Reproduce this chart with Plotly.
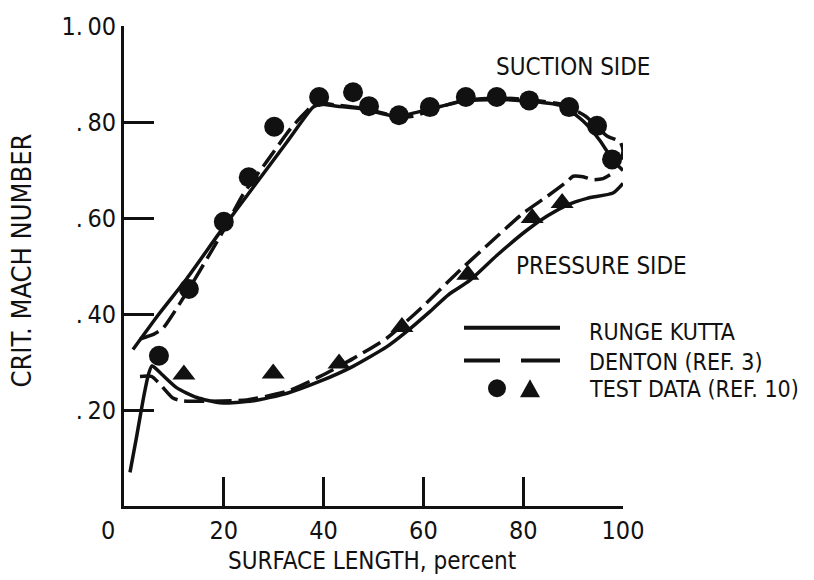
import plotly.graph_objects as go

# ---- measured data -------------------------------------------------------
# Suction side, Runge-Kutta solution
ss_rk_x = [1.8, 7.0, 12.6, 19.2, 25.9, 32.7, 37.9, 39.3, 42.7, 47.9, 54.7,
           61.3, 67.9, 74.7, 81.4, 88.0, 92.0, 95.4, 98.0, 100.0]
ss_rk_y = [0.326, 0.400, 0.474, 0.570, 0.664, 0.759, 0.831, 0.837, 0.833,
           0.827, 0.812, 0.827, 0.843, 0.847, 0.843, 0.833, 0.802, 0.761,
           0.720, 0.699]

# Suction side, Denton (ref. 3)
ss_dn_x = [3.2, 6.0, 7.8, 9.2, 13.0, 20.0, 23.8, 28.7, 33.3, 35.9, 38.5,
           42.0, 48.0, 54.7, 57.9, 63.9, 68.0, 75.0, 81.5, 88.0, 92.5, 96.8,
           99.4, 100.0, 99.6]
ss_dn_y = [0.348, 0.358, 0.370, 0.390, 0.452, 0.575, 0.648, 0.719, 0.785,
           0.815, 0.840, 0.836, 0.828, 0.812, 0.812, 0.833, 0.845, 0.850,
           0.846, 0.836, 0.812, 0.771, 0.759, 0.740, 0.722]

# Pressure side, Runge-Kutta solution
ps_rk_x = [1.2, 2.5, 3.9, 4.9, 5.6, 7.5, 10.6, 14.6, 19.2, 25.9, 32.7, 39.3,
           45.9, 52.7, 56.0, 61.3, 65.0, 69.3, 74.7, 80.8, 84.8, 88.8, 92.8,
           98.0, 100.0]
ps_rk_y = [0.070, 0.143, 0.225, 0.274, 0.292, 0.275, 0.246, 0.226, 0.215,
           0.219, 0.235, 0.260, 0.291, 0.332, 0.358, 0.405, 0.440, 0.470,
           0.522, 0.575, 0.604, 0.627, 0.641, 0.652, 0.672]

# Pressure side, Denton (ref. 3)
ps_dn_x = [3.2, 5.5, 7.2, 9.8, 11.8, 15.8, 24.6, 32.7, 39.3, 45.9, 52.7,
           59.3, 66.7, 73.3, 80.0, 84.8, 88.8, 90.0, 92.0, 94.0, 96.0, 97.4]
ps_dn_y = [0.270, 0.270, 0.254, 0.225, 0.219, 0.218, 0.221, 0.239, 0.270,
           0.307, 0.350, 0.410, 0.485, 0.548, 0.610, 0.645, 0.676, 0.687,
           0.686, 0.680, 0.682, 0.690]

# Test data (ref. 10): circles and triangles
circ_x = [7.0, 13.0, 20.0, 25.0, 30.1, 39.1, 45.9, 49.1, 55.1, 61.3, 68.5,
          74.7, 81.2, 89.2, 94.8, 97.8]
circ_y = [0.313, 0.452, 0.592, 0.685, 0.790, 0.852, 0.862, 0.833, 0.814,
          0.831, 0.852, 0.852, 0.845, 0.831, 0.792, 0.722]
tri_x = [12.0, 29.9, 43.1, 55.7, 68.9, 81.8, 87.8]
tri_y = [0.274, 0.276, 0.297, 0.373, 0.482, 0.600, 0.631]

x_ticks = [20, 40, 60, 80, 100]
x_tick_text = ["20", "40", "60", "80", "100"]
y_ticks = [0.2, 0.4, 0.6, 0.8, 1.0]
y_tick_text = [".\u200920", ".\u200940", ".\u200960", ".\u200980", "1.\u200900"]

# ---- layout geometry (pixels) --------------------------------------------
W, H = 814, 580
L, R, T, B = 124, 623, 21, 506
FONT = "Liberation Sans Narrow, DejaVu Sans Condensed, Arial Narrow, sans-serif"
INK = "#111111"
LW = 3.5
DASH = "20px,7px"


def px(xpix):
    return (xpix - L) / (R - L)


def py(ypix):
    return (B - ypix) / (B - T)


fig = go.Figure()

fig.add_trace(go.Scatter(x=ss_rk_x, y=ss_rk_y, mode="lines",
                         line=dict(color=INK, width=LW, shape="spline", smoothing=0.6)))
fig.add_trace(go.Scatter(x=ss_dn_x, y=ss_dn_y, mode="lines",
                         line=dict(color=INK, width=LW, dash=DASH, shape="spline", smoothing=0.6)))
fig.add_trace(go.Scatter(x=ps_rk_x, y=ps_rk_y, mode="lines",
                         line=dict(color=INK, width=LW, shape="spline", smoothing=0.6)))
fig.add_trace(go.Scatter(x=ps_dn_x, y=ps_dn_y, mode="lines",
                         line=dict(color=INK, width=LW, dash=DASH, shape="spline", smoothing=0.6)))
fig.add_trace(go.Scatter(x=circ_x, y=circ_y, mode="markers", cliponaxis=False,
                         marker=dict(symbol="circle", size=20, color=INK)))
fig.add_trace(go.Scatter(x=tri_x, y=tri_y, mode="markers", cliponaxis=False,
                         marker=dict(symbol="triangle-up", size=20, color=INK)))

fig.update_layout(
    width=W, height=H,
    margin=dict(l=L, r=W - R, t=T, b=H - B),
    paper_bgcolor="white", plot_bgcolor="white",
    showlegend=False,
    font=dict(family=FONT, color=INK),
    xaxis=dict(range=[0, 100], tickvals=x_ticks, ticktext=x_tick_text,
               ticks="inside", ticklen=29, tickwidth=2.5, tickcolor=INK,
               showline=True, linewidth=3, linecolor=INK,
               showgrid=False, zeroline=False,
               tickfont=dict(size=25, family=FONT, color=INK)),
    yaxis=dict(range=[0, 1], tickvals=y_ticks, ticktext=y_tick_text,
               ticks="inside", ticklen=30, tickwidth=2.5, tickcolor=INK,
               showline=True, linewidth=3, linecolor=INK,
               showgrid=False, zeroline=False,
               tickfont=dict(size=25, family=FONT, color=INK)),
)

ann = []


def text(s, xpix, ypix, size, xanchor="center", angle=0):
    ann.append(dict(text=s, x=px(xpix), y=py(ypix), xref="paper", yref="paper",
                    xanchor=xanchor, yanchor="middle", showarrow=False,
                    textangle=angle, font=dict(size=size, family=FONT, color=INK)))


text("0", 108, 531, 25)
text("SURFACE LENGTH, percent", 372, 562, 24)
text("CRIT. MACH NUMBER", 22, 258, 27, angle=-90)
text("SUCTION SIDE", 573, 62, 24)
text("PRESSURE SIDE", 601, 263, 24)
text("RUNGE KUTTA", 587, 330, 23, xanchor="left")
text("DENTON (REF. 3)", 587, 360, 23, xanchor="left")
text("TEST DATA (REF. 10)", 587, 388, 23, xanchor="left")
fig.update_layout(annotations=ann)

# Legend keys
shapes = [
    dict(type="line", xref="paper", yref="paper", x0=px(464), x1=px(560),
         y0=py(326), y1=py(326), line=dict(color=INK, width=4)),
    dict(type="line", xref="paper", yref="paper", x0=px(464), x1=px(500),
         y0=py(359), y1=py(359), line=dict(color=INK, width=4)),
    dict(type="line", xref="paper", yref="paper", x0=px(521), x1=px(560),
         y0=py(359), y1=py(359), line=dict(color=INK, width=4)),
    dict(type="circle", xref="paper", yref="paper", x0=px(488), x1=px(506),
         y0=py(396), y1=py(378), fillcolor=INK, line=dict(color=INK, width=0)),
    dict(type="path", xref="paper", yref="paper",
         path=f"M {px(520)},{py(396)} L {px(540)},{py(396)} L {px(530)},{py(378)} Z",
         fillcolor=INK, line=dict(color=INK, width=0)),
]
fig.update_layout(shapes=shapes)

fig.write_html("out.html")
